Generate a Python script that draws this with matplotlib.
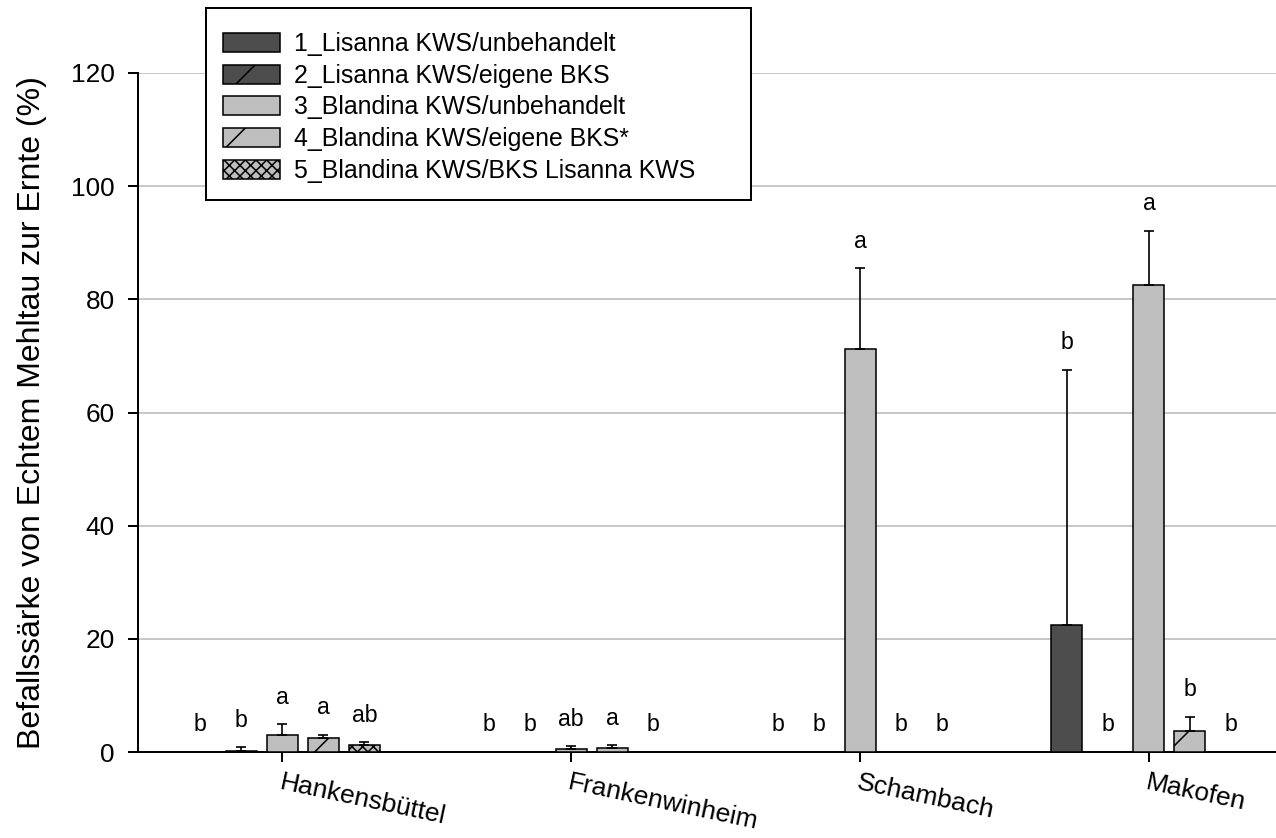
import matplotlib
matplotlib.use("Agg")
import matplotlib.pyplot as plt
from matplotlib.patches import Patch, Rectangle
import numpy as np

plt.rcParams["font.family"] = ["Liberation Sans", "DejaVu Sans"]
plt.rcParams["hatch.linewidth"] = 0.7

# Standorte und Varianten
sites = ["Hankensbüttel", "Frankenwinheim", "Schambach", "Makofen"]
variants = [
    "1_Lisanna KWS/unbehandelt",
    "2_Lisanna KWS/eigene BKS",
    "3_Blandina KWS/unbehandelt",
    "4_Blandina KWS/eigene BKS*",
    "5_Blandina KWS/BKS Lisanna KWS",
]

# Befallsstärke (%) je Variante, Reihenfolge wie sites
means = [
    [0.0, 0.0, 0.0, 22.4],
    [0.25, 0.0, 0.0, 0.0],
    [3.0, 0.5, 71.2, 82.5],
    [2.5, 0.7, 0.0, 3.7],
    [1.2, 0.0, 0.0, 0.0],
]
# Standardabweichung (nur nach oben dargestellt)
errors = [
    [0.0, 0.0, 0.0, 45.1],
    [0.55, 0.0, 0.0, 0.0],
    [1.9, 0.5, 14.3, 9.6],
    [0.5, 0.5, 0.0, 2.5],
    [0.5, 0.0, 0.0, 0.0],
]
# Signifikanzbuchstaben
letters = [
    ["b", "b", "b", "b"],
    ["b", "b", "b", "b"],
    ["a", "ab", "a", "a"],
    ["a", "a", "b", "b"],
    ["ab", "b", "b", "b"],
]

facecolors = ["#4d4d4d", "#4d4d4d", "#bebebe", "#bebebe", "#bebebe"]
hatches = [None, "/", None, "/", "xxxxx"]

DPI = 160
fig = plt.figure(figsize=(1276 / DPI, 838 / DPI), dpi=DPI)
ax = fig.add_axes([138 / 1276, 1 - 752 / 838, 1 - 138 / 1276, (752 - 73) / 838])

x = np.arange(len(sites))
step = 0.142
width = 0.107

for i in range(len(variants)):
    pos = x + (i - 2) * step
    vals = np.array(means[i])
    errs = np.array(errors[i])
    ax.bar(pos, vals, width=width, color=facecolors[i], edgecolor="black",
           linewidth=0.7, hatch=hatches[i], zorder=3)
    mask = errs > 0
    ax.errorbar(pos[mask], vals[mask],
                yerr=[np.zeros(mask.sum()), errs[mask]],
                fmt="none", ecolor="black", elinewidth=0.75, capsize=2.3,
                capthick=0.75, zorder=4)
    for p, v, e, t in zip(pos, vals, errs, letters[i]):
        ax.text(p, v + e + 4.8, t, ha="center", va="center", fontsize=10.4)

ax.set_xlim(-0.5, 3.44)
ax.set_ylim(0, 120)
ax.set_yticks(np.arange(0, 121, 20))
ax.set_xticks(x)
ax.set_xticklabels(sites, rotation=-12, ha="left", va="top",
                   rotation_mode="anchor", fontsize=11.9)
ax.tick_params(axis="y", labelsize=11.8, length=4.5, width=0.9, pad=6)
ax.tick_params(axis="x", length=4.5, width=0.9, pad=4)

for yv in range(20, 121, 20):
    ax.axhline(yv, color="#c8c8c8", linewidth=0.9, zorder=1)

for s in ["top", "right"]:
    ax.spines[s].set_visible(False)
for s in ["left", "bottom"]:
    ax.spines[s].set_linewidth(0.9)

ax.set_ylabel("Befallssärke von Echtem Mehltau zur Ernte (%)", fontsize=14.4,
              labelpad=10.5)

handles = [Patch(facecolor=facecolors[i], edgecolor="black", linewidth=0.7,
                 hatch=hatches[i]) for i in range(len(variants))]
leg = fig.legend(handles, variants, loc="upper left",
                 bbox_to_anchor=(223 / 1276, 1 - 32 / 838), frameon=False,
                 fontsize=11.2, handlelength=2.3, handleheight=0.8,
                 handletextpad=0.55, labelspacing=0.31, borderpad=0,
                 borderaxespad=0)

fig.patches.append(Rectangle((206 / 1276, 1 - 200 / 838), (751 - 206) / 1276,
                             (200 - 8) / 838, transform=fig.transFigure,
                             facecolor="white", edgecolor="black",
                             linewidth=0.9, zorder=0))

fig.savefig("out.png", dpi=DPI)
